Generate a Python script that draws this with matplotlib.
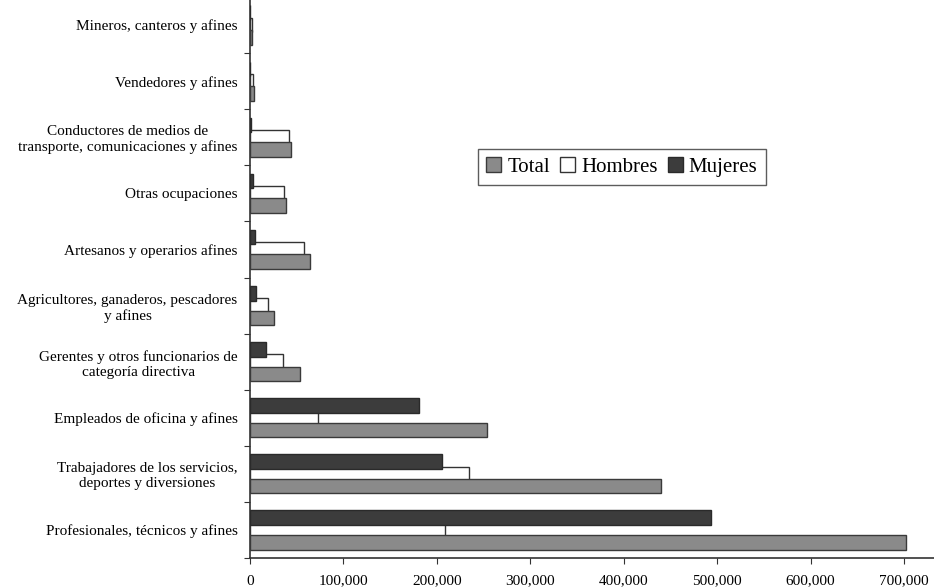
import numpy as np
import matplotlib.pyplot as plt
from matplotlib.ticker import FuncFormatter, FixedLocator

plt.rcParams['font.family'] = ['Liberation Serif', 'DejaVu Serif']

# categories from top to bottom, as in the picture
ocupaciones = [
    "Mineros, canteros y afines",
    "Vendedores y afines",
    "Conductores de medios de\ntransporte, comunicaciones y afines",
    "Otras ocupaciones",
    "Artesanos y operarios afines",
    "Agricultores, ganaderos, pescadores\ny afines",
    "Gerentes y otros funcionarios de\ncategoría directiva",
    "Empleados de oficina y afines",
    "Trabajadores de los servicios,\ndeportes y diversiones",
    "Profesionales, técnicos y afines",
]
total = [2000, 4000, 44000, 39000, 64000, 26000, 53000, 254000, 440000, 702000]
hombres = [1800, 3500, 42000, 36000, 58000, 19000, 35000, 73000, 234000, 209000]
mujeres = [200, 500, 1000, 3000, 5000, 6000, 17000, 181000, 206000, 493000]
x_ticks = [0, 100000, 200000, 300000, 400000, 500000, 600000, 700000]

fig = plt.figure(figsize=(9.34, 5.88), dpi=100)
ax = fig.add_axes([250 / 934, 30 / 588, 1 - 250 / 934, 1 - 30 / 588 + 3 / 588])

y = np.arange(len(ocupaciones))
h = 0.26
off = 0.22

# white men's bar sits behind the other two
ax.barh(y, hombres, height=h, color='white', edgecolor='#333333', linewidth=1.0, zorder=2)
ax.barh(y - off, mujeres, height=h, color='#3c3c3c', edgecolor='#2a2a2a', linewidth=1.0, zorder=3)
ax.barh(y + off, total, height=h, color='#8a8a8a', edgecolor='#3a3a3a', linewidth=1.0, zorder=3)

ax.set_ylim(len(ocupaciones) - 0.5, -0.5)
ax.set_xlim(0, 732000)

ax.spines['top'].set_visible(False)
ax.spines['right'].set_visible(False)
for s in ['left', 'bottom']:
    ax.spines[s].set_color('#333333')
    ax.spines[s].set_linewidth(1.2)

# group boundary ticks and category labels in between
ax.yaxis.set_major_locator(FixedLocator(np.arange(-0.5, len(ocupaciones), 1.0)))
ax.yaxis.set_major_formatter(plt.NullFormatter())
ax.yaxis.set_minor_locator(FixedLocator(y))
ax.set_yticklabels(ocupaciones, minor=True, fontsize=11, multialignment='center')
ax.tick_params(axis='y', which='major', direction='out', length=4, color='#333333')
ax.tick_params(axis='y', which='minor', length=0, pad=9)

ax.set_xticks(x_ticks)
ax.xaxis.set_major_formatter(FuncFormatter(lambda v, p: f"{int(v):,}"))
ax.tick_params(axis='x', direction='out', length=4, color='#333333', labelsize=11, pad=8)

leg_handles = [
    plt.Rectangle((0, 0), 1, 1, facecolor='#8a8a8a', edgecolor='#3a3a3a'),
    plt.Rectangle((0, 0), 1, 1, facecolor='white', edgecolor='#333333'),
    plt.Rectangle((0, 0), 1, 1, facecolor='#3c3c3c', edgecolor='#2a2a2a'),
]
leg = ax.legend(leg_handles, ["Total", "Hombres", "Mujeres"], ncol=3,
                loc='upper left', bbox_to_anchor=((478 - 250) / 684, 1 - 152 / 561),
                fontsize=15, frameon=True, fancybox=False, shadow=False,
                handlelength=0.7, handleheight=0.7, handletextpad=0.3,
                columnspacing=0.5, borderpad=0.4, borderaxespad=0)
leg.get_frame().set_edgecolor('#333333')
leg.get_frame().set_linewidth(1.0)

fig.savefig('out.png', dpi=100)
